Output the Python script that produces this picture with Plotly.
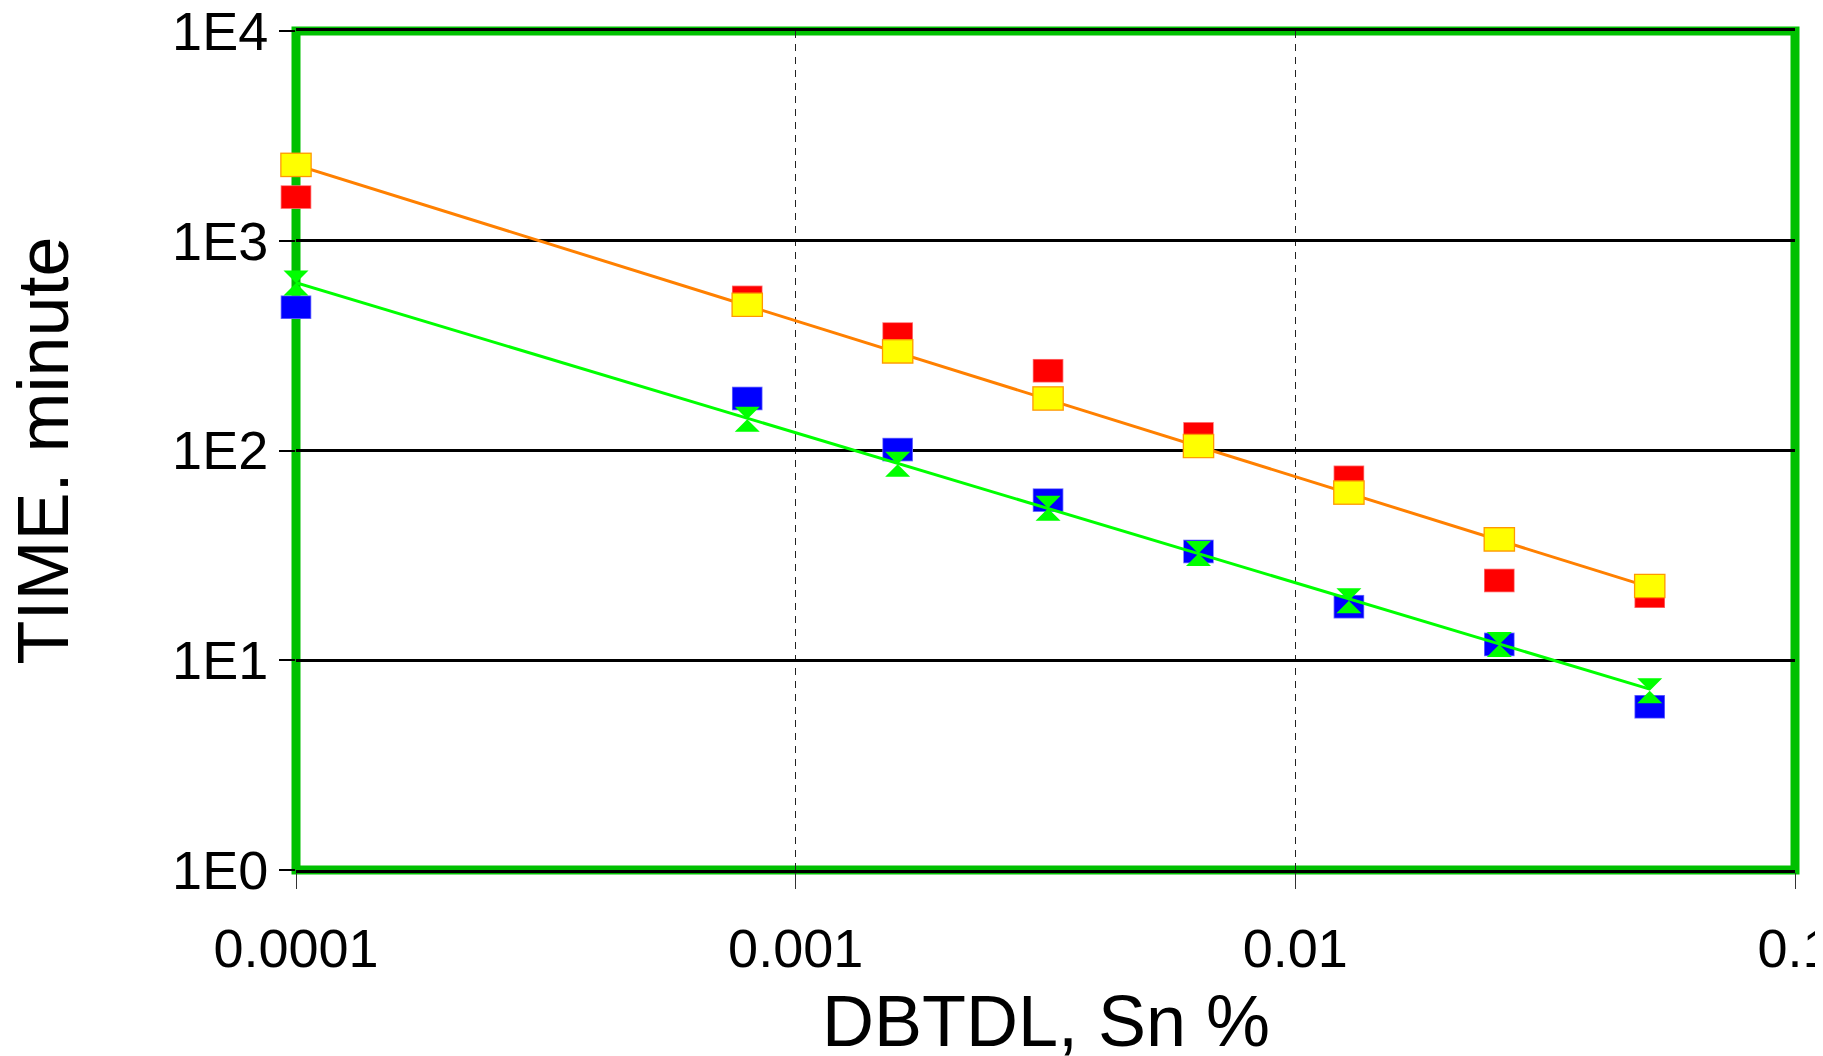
import plotly.graph_objects as go

# ---- data ----
dbtdl = [0.0001, 0.0008, 0.0016, 0.0032, 0.0064, 0.0128, 0.0256, 0.0512]
red_time = [1615, 537, 359, 240, 120, 74.5, 24, 20.2]
yellow_time = [2300, 495, 297, 177, 105, 63, 37.7, 22.6]
blue_time = [482, 177, 101, 58, 33, 18, 11.9, 6.0]
green_time = [629, 141, 86, 53, 32.3, 19.2, 11.9, 7.15]

fit_x = [0.0001, 0.0512]
orange_fit = [2300, 22.3]
green_fit = [631, 7.28]

x_tickvals = [0.0001, 0.001, 0.01, 0.1]
x_ticktext = ["0.0001", "0.001", "0.01", "0.1"]
y_tickvals = [1, 10, 100, 1000, 10000]
y_ticktext = ["1E0", "1E1", "1E2", "1E3", "1E4"]

x_title = "DBTDL, Sn %"
y_title = "TIME. minute"

FONT = "Liberation Sans, Arial, sans-serif"
RECT_W = 29 / 1.4   # line-ew marker length factor
RECT_H = 22

fig = go.Figure()


def rect_trace(y, fill, border=None, bw=0):
    size = RECT_W + (2 * bw / 1.4 if border else 0)
    h = RECT_H + (2 * bw if border else 0)
    col = border if border else fill
    return go.Scatter(
        x=dbtdl, y=y, mode="markers", showlegend=False, hoverinfo="x+y",
        cliponaxis=False,
        marker=dict(symbol="line-ew", size=size, color=col,
                    line=dict(width=h, color=col)),
    )


fig.add_trace(rect_trace(red_time, "#FF0000", "#FF7070", 0.8))
fig.add_trace(rect_trace(red_time, "#FF0000"))
fig.add_trace(rect_trace(blue_time, "#0000FF", "#7070FF", 0.8))
fig.add_trace(rect_trace(blue_time, "#0000FF"))

fig.add_trace(go.Scatter(x=fit_x, y=orange_fit, mode="lines", showlegend=False,
                         cliponaxis=False,
                         line=dict(color="#FF8000", width=3)))
fig.add_trace(go.Scatter(x=fit_x, y=green_fit, mode="lines", showlegend=False,
                         cliponaxis=False,
                         line=dict(color="#00FF00", width=3)))

fig.add_trace(rect_trace(yellow_time, "#FFFF00", "#FF9900", 1.3))
fig.add_trace(rect_trace(yellow_time, "#FFFF00"))

fig.add_trace(go.Scatter(
    x=dbtdl, y=green_time, mode="markers", showlegend=False, cliponaxis=False,
    marker=dict(symbol="hourglass", size=25, color="#00FF00",
                line=dict(width=0)),
))

# green frame around plot area
fig.add_shape(type="rect", xref="paper", yref="paper", x0=0, x1=1, y0=0, y1=1,
              line=dict(color="#00C000", width=9), layer="below")

fig.update_xaxes(
    type="log", range=[-4, -1], automargin=False,
    tickvals=x_tickvals, ticktext=x_ticktext, ticklabeloverflow="allow",
    ticklabelstandoff=13,
    showgrid=True, gridcolor="#222222", gridwidth=1, griddash="7px,6px",
    ticks="outside", ticklen=16, tickcolor="#333333", tickwidth=1,
    showline=True, linecolor="black", linewidth=2.5, mirror=True,
    zeroline=False,
    tickfont=dict(family=FONT, size=54, color="black"),
)
fig.update_yaxes(
    type="log", range=[0, 4], automargin=False,
    tickvals=y_tickvals, ticktext=y_ticktext, ticklabeloverflow="allow",
    showgrid=True, gridcolor="black", gridwidth=2.5,
    ticks="outside", ticklen=16, tickcolor="black", tickwidth=2,
    showline=False, zeroline=False,
    tickfont=dict(family=FONT, size=54, color="black"),
)

fig.add_annotation(text=x_title, xref="paper", yref="paper", x=0.5, y=0,
                   xanchor="center", yanchor="middle", yshift=-151,
                   showarrow=False, font=dict(family=FONT, size=72, color="black"))
fig.add_annotation(text=y_title, xref="paper", yref="paper", x=0, y=0.5,
                   xanchor="center", yanchor="middle", xshift=-254, textangle=-90,
                   showarrow=False, font=dict(family=FONT, size=72, color="black"))

fig.update_layout(
    width=1823, height=1056,
    margin=dict(l=288, r=36, t=23, b=194, autoexpand=False),
    paper_bgcolor="white", plot_bgcolor="white",
    showlegend=False,
    font=dict(family=FONT, color="black"),
)

fig.write_html("out.html")
